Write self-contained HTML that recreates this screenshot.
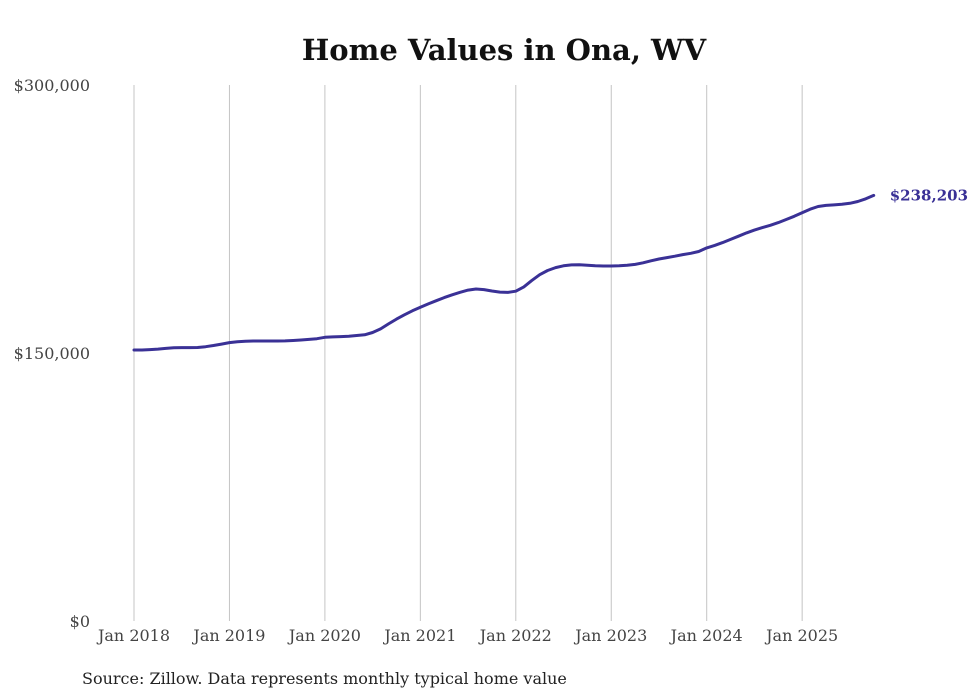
<!DOCTYPE html>
<html><head><meta charset="utf-8"><style>
body{margin:0;background:#fff;}
svg{display:block;font-family:"DejaVu Serif","Liberation Serif",serif;}
</style></head><body>
<svg id="c" width="980" height="699">
<text x="504" y="60" text-anchor="middle" font-size="29" font-weight="bold" fill="#111">Home Values in Ona, WV</text>
<g id="grid"></g><g id="yax"></g><g id="xax"></g><g id="ser"></g>
<text x="82" y="684" font-size="16" fill="#222">Source: Zillow. Data represents monthly typical home value</text>
</svg>
<script>
const yearLabels=["Jan 2018","Jan 2019","Jan 2020","Jan 2021","Jan 2022","Jan 2023","Jan 2024","Jan 2025"];
const yTicks=[0,150000,300000];
const yTickLabels=["$0","$150,000","$300,000"];
const values=[151.7,151.7,151.9,152.2,152.6,152.9,153.0,153.0,153.1,153.5,154.2,155.0,
155.8,156.3,156.6,156.7,156.7,156.7,156.7,156.8,157.0,157.3,157.6,158.0,
158.8,159.0,159.2,159.4,159.8,160.2,161.5,163.5,166.3,169.0,171.4,173.6,
175.6,177.5,179.3,181.0,182.6,184.0,185.2,185.8,185.5,184.7,184.1,183.9,
184.6,187.0,190.5,193.8,196.2,197.8,198.8,199.3,199.4,199.1,198.8,198.7,
198.7,198.8,199.1,199.6,200.5,201.6,202.6,203.4,204.2,205.1,205.8,206.8,
208.8,210.2,211.8,213.6,215.4,217.2,218.8,220.2,221.5,223.0,224.7,226.5,
228.5,230.5,232.0,232.6,232.9,233.2,233.8,234.8,236.3,238.2];
const lastLabel="$238,203";
const NS="http://www.w3.org/2000/svg";
const x0=134,yearW=95.45,yTop=85,yBot=621;
const xs=i=>x0+i*yearW/12;
const ys=v=>yBot-(v/300000)*(yBot-yTop);
function mk(t,a,p){const e=document.createElementNS(NS,t);for(const k in a)e.setAttribute(k,a[k]);p.appendChild(e);return e;}
const grid=document.getElementById('grid'),xax=document.getElementById('xax'),yax=document.getElementById('yax'),ser=document.getElementById('ser');
yearLabels.forEach((l,i)=>{const x=xs(i*12);
const g=mk('line',{x1:x,x2:x,y1:yTop,y2:yBot,stroke:'#c4c4c4','stroke-width':1},grid);


const t=mk('text',{x:x,y:641,'text-anchor':'middle','font-size':16,fill:'#444'},xax);t.textContent=l;

});
yTicks.forEach((v,i)=>{const t=mk('text',{x:90,y:ys(v)+6,'text-anchor':'end','font-size':16,fill:'#444'},yax);t.textContent=yTickLabels[i];

});
const d=values.map((v,i)=>(i?'L':'M')+xs(i).toFixed(1)+','+ys(v*1000).toFixed(1)).join('');
const p=mk('path',{d:d,fill:'none',stroke:'#3a3196','stroke-width':3,'stroke-linejoin':'round','stroke-linecap':'round'},ser);


const li=values.length-1;
const lt=mk('text',{x:xs(li)+16,y:ys(values[li]*1000)+5,'font-size':15,'font-weight':'bold',fill:'#3a3196'},ser);
lt.textContent=lastLabel;


</script>
</body></html>
